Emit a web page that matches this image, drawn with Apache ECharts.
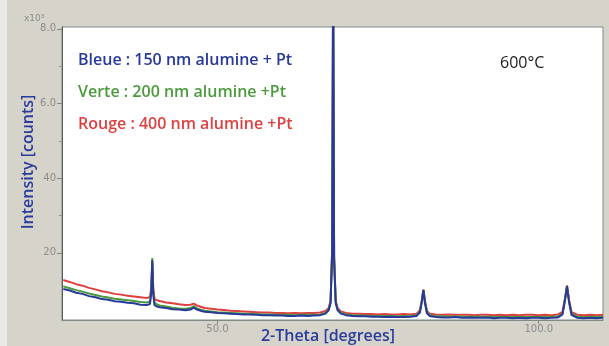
<!DOCTYPE html>
<html>
<head>
<meta charset="utf-8">
<script src="https://cdn.jsdelivr.net/npm/echarts@6/dist/echarts.min.js"></script>
<style>
  html, body { margin: 0; padding: 0; background: #d6d3cb; }
  #chart { width: 609px; height: 346px; }
</style>
</head>
<body>
<div id="chart"></div>
<script>
// 2-theta positions (degrees), shared by the three scans
const twoTheta = [
  26, 27, 28, 29, 30, 31, 32, 33, 34, 35,
  36, 37, 38, 39, 39.5, 39.7, 39.85, 40.0, 40.2, 40.6,
  41, 42, 43, 44, 45, 45.8, 46.3, 46.8, 47.5, 48,
  49, 50, 51, 52, 53, 54, 55, 56, 57, 58,
  59, 60, 61, 62, 63, 64, 65, 66, 66.8, 67.3,
  67.6, 67.85, 68.0, 68.15, 68.4, 68.7, 69.2, 70, 71, 72,
  73, 74, 75, 76, 77, 78, 79, 80, 81, 81.5,
  81.8, 82.05, 82.3, 82.6, 83, 84, 85, 86, 87, 88,
  89, 90, 91, 92, 93, 94, 95, 96, 97, 98,
  99, 100, 101, 102, 103, 103.7, 104.1, 104.4, 104.7, 105.1,
  106, 107, 108, 109, 110
];

// intensity, x10^3 counts
const bleue = [
  10.3, 9.9, 9.3, 9.0, 8.4, 8.1, 7.6, 7.4, 7.0, 6.9,
  6.6, 6.5, 6.1, 6.0, 6.3, 9.5, 18.0, 9.0, 6.0, 5.6,
  5.4, 5.2, 4.9, 4.8, 4.6, 4.8, 5.3, 4.8, 4.4, 4.2,
  4.1, 3.9, 3.8, 3.7, 3.6, 3.5, 3.5, 3.4, 3.3, 3.3,
  3.2, 3.2, 3.1, 3.1, 3.2, 3.1, 3.2, 3.3, 3.7, 4.6,
  6.5, 20, 96, 18, 6.5, 4.6, 3.7, 3.3, 3.1, 3.0,
  3.0, 2.9, 2.9, 2.8, 2.9, 2.8, 2.8, 2.9, 3.1, 4.0,
  6.8, 10.0, 6.5, 3.8, 3.1, 2.8, 2.7, 2.7, 2.8, 2.6,
  2.7, 2.6, 2.6, 2.7, 2.5, 2.6, 2.6, 2.5, 2.6, 2.5,
  2.6, 2.6, 2.5, 2.6, 2.7, 3.5, 7.5, 11.1, 7.0, 3.4,
  2.6, 2.5, 2.6, 2.5, 2.6
];

const verte = [
  11.0, 10.5, 10.0, 9.6, 9.1, 8.7, 8.3, 8.0, 7.7, 7.5,
  7.3, 7.1, 6.8, 6.7, 7.0, 10.2, 18.6, 9.6, 6.6, 6.2,
  5.9, 5.6, 5.3, 5.1, 5.0, 5.2, 5.7, 5.1, 4.7, 4.5,
  4.3, 4.1, 4.0, 3.9, 3.8, 3.7, 3.7, 3.6, 3.5, 3.5,
  3.4, 3.4, 3.4, 3.3, 3.4, 3.4, 3.4, 3.5, 3.9, 4.8,
  6.8, 21, 96, 19, 6.8, 4.8, 3.9, 3.5, 3.3, 3.2,
  3.2, 3.1, 3.1, 3.1, 3.1, 3.0, 3.1, 3.0, 3.3, 4.2,
  7.0, 10.0, 6.7, 4.0, 3.3, 3.0, 3.0, 2.9, 3.0, 2.9,
  2.9, 2.9, 2.9, 2.9, 2.8, 2.9, 2.8, 2.8, 2.9, 2.8,
  2.9, 2.8, 2.8, 2.9, 2.9, 3.7, 7.6, 11.0, 7.2, 3.6,
  2.9, 2.8, 2.8, 2.9, 2.8
];

const rouge = [
  12.7, 12.2, 11.6, 11.2, 10.6, 10.2, 9.7, 9.4, 9.0, 8.8,
  8.5, 8.3, 8.1, 7.9, 8.2, 10.8, 17.5, 10.5, 7.6, 7.3,
  7.1, 6.7, 6.5, 6.2, 6.0, 6.1, 6.4, 5.9, 5.5, 5.2,
  5.0, 4.8, 4.7, 4.5, 4.4, 4.3, 4.2, 4.1, 4.0, 4.0,
  3.9, 3.9, 3.8, 3.9, 3.8, 3.9, 3.9, 4.0, 4.4, 5.2,
  7.2, 21, 95, 19, 7.2, 5.2, 4.3, 3.9, 3.7, 3.7,
  3.6, 3.6, 3.5, 3.6, 3.5, 3.5, 3.6, 3.5, 3.7, 4.6,
  7.3, 10.2, 7.1, 4.4, 3.7, 3.5, 3.4, 3.5, 3.4, 3.4,
  3.4, 3.3, 3.4, 3.4, 3.3, 3.4, 3.3, 3.4, 3.3, 3.4,
  3.4, 3.3, 3.4, 3.3, 3.5, 4.2, 8.0, 11.3, 7.6, 4.1,
  3.4, 3.3, 3.4, 3.3, 3.4
];

// tick labels as printed on the original plot
const yTicks = [20, 40, 60, 80];
const yTickLabels = ['20', '40', '6.0', '8.0'];
const yMinorTicks = [30, 50, 70];
const xTicks = [50, 100];
const xTickLabels = ['50.0', '100.0'];

const legendItems = [
  { text: 'Bleue : 150 nm alumine + Pt', color: '#27399a' },
  { text: 'Verte : 200 nm alumine +Pt', color: '#4b9a3c' },
  { text: 'Rouge : 400 nm alumine +Pt', color: '#de4040' }
];

const pairs = (ys) => twoTheta.map((x, i) => [x, ys[i]]);

const chart = echarts.init(document.getElementById('chart'));

const axisNameStyle = {
  fill: '#2a3c9c',
  fontSize: 16,
  fontWeight: 600,
  fontFamily: 'Open Sans',
  align: 'center',
  verticalAlign: 'middle'
};
const tickLabelStyle = {
  color: '#8c8c8c',
  fontSize: 10,
  fontFamily: 'DejaVu Sans'
};

const option = {
  backgroundColor: '#d6d3cb',
  animation: false,
  grid: {
    left: 62, right: 6, top: 27, bottom: 26,
    show: true,
    backgroundColor: '#ffffff',
    borderColor: '#7f8a86',
    borderWidth: 1
  },
  xAxis: {
    type: 'value',
    min: 25.8,
    max: 110,
    axisLine: { show: true, lineStyle: { color: '#7f8a86' } },
    axisTick: { show: true, length: 4, customValues: xTicks, lineStyle: { color: '#7f8a86' } },
    axisLabel: {
      ...tickLabelStyle,
      margin: 4,
      customValues: xTicks,
      formatter: (v) => xTickLabels[xTicks.indexOf(v)]
    },
    splitLine: { show: false }
  },
  yAxis: [
    {
      type: 'value',
      min: 2,
      max: 80.5,
      axisLine: { show: true, lineStyle: { color: '#55605c' } },
      axisTick: { show: true, length: 5, customValues: yTicks, lineStyle: { color: '#7f8a86' } },
      axisLabel: {
        ...tickLabelStyle,
        margin: 6,
        customValues: yTicks,
        formatter: (v) => yTickLabels[yTicks.indexOf(v)]
      },
      splitLine: { show: false }
    },
    {
      type: 'value',
      min: 2,
      max: 80.5,
      position: 'left',
      axisLine: { show: false },
      axisTick: { show: true, length: 3, customValues: yMinorTicks, lineStyle: { color: '#8c9692' } },
      axisLabel: { show: false },
      splitLine: { show: false }
    }
  ],
  series: [
    {
      name: 'Rouge', type: 'line', data: pairs(rouge), showSymbol: false,
      lineStyle: { color: '#de4040', width: 2 }, itemStyle: { color: '#de4040' }
    },
    {
      name: 'Verte', type: 'line', data: pairs(verte), showSymbol: false,
      lineStyle: { color: '#4b9a3c', width: 2 }, itemStyle: { color: '#4b9a3c' }
    },
    {
      name: 'Bleue', type: 'line', data: pairs(bleue), showSymbol: false,
      lineStyle: { color: '#27399a', width: 2 }, itemStyle: { color: '#27399a' }
    }
  ],
  graphic: [
    { type: 'rect', left: 0, top: 0, shape: { width: 7, height: 346 }, style: { fill: '#ebe9e4' }, silent: true },
    {
      type: 'text', left: 24, top: 14,
      style: { text: 'x10³', fill: '#8c8c8c', fontSize: 9, fontFamily: 'DejaVu Sans' }
    },
    // axis titles
    { type: 'text', x: 28, y: 162, rotation: Math.PI / 2, style: { text: 'Intensity [counts]', ...axisNameStyle } },
    { type: 'text', x: 328, y: 336, style: { text: '2-Theta [degrees]', ...axisNameStyle } },
    ...legendItems.map((item, i) => ({
      type: 'text', left: 78, top: 52 + i * 32,
      style: { text: item.text, fill: item.color, fontSize: 16, fontWeight: 600, fontFamily: 'Open Sans' }
    })),
    {
      type: 'text', left: 500, top: 55,
      style: { text: '600°C', fill: '#1a1a1a', fontSize: 16, fontWeight: 500, fontFamily: 'Open Sans' }
    }
  ]
};

chart.setOption(option);
</script>
</body>
</html>
